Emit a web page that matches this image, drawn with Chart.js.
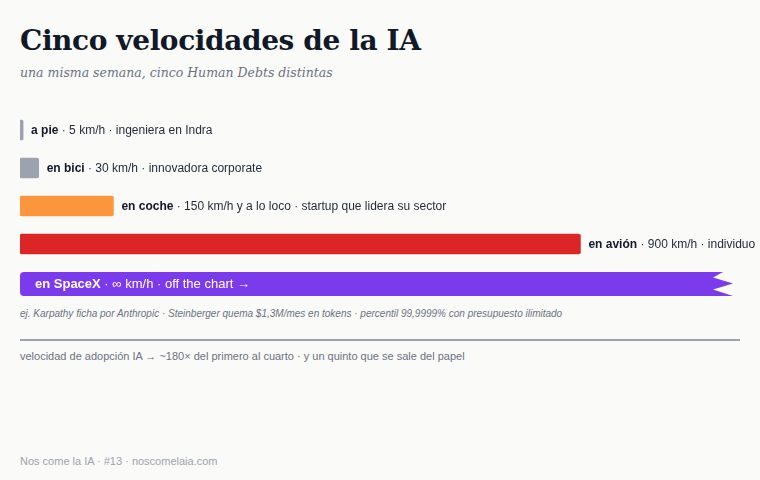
<!DOCTYPE html>
<html lang="es">
<head>
<meta charset="utf-8">
<script src="https://cdn.jsdelivr.net/npm/chart.js@4.4.1/dist/chart.umd.min.js"></script>
<style>
  html, body { margin: 0; padding: 0; background: #fafaf9; }
  body { width: 760px; height: 480px; position: relative; overflow: hidden; font-family: "Liberation Sans", Arial, sans-serif; }
  h1 { position: absolute; left: 20px; top: 24px; margin: 0; font-family: Georgia, "DejaVu Serif", serif; font-size: 28px; font-weight: bold; color: #111827; letter-spacing: -0.4px; }
  .sub { position: absolute; left: 20px; top: 65px; font-family: Georgia, "DejaVu Serif", serif; font-style: italic; font-size: 12.5px; color: #6b7280; }
  #wrap { position: absolute; left: 0; top: 110px; width: 760px; height: 192px; }
  .txt { position: absolute; left: 20px; white-space: nowrap; }
  .nota { top: 308px; font-size: 10px; font-style: italic; color: #6b7280; }
  .rule { position: absolute; left: 20px; top: 339px; width: 720px; height: 2px; background: #9ca3af; }
  .lectura { top: 350px; font-size: 11px; color: #6b7280; }
  .pie { top: 455px; font-size: 11px; color: #9ca3af; }
</style>
</head>
<body>
<h1>Cinco velocidades de la IA</h1>
<div class="sub">una misma semana, cinco Human Debts distintas</div>
<div id="wrap"><canvas id="canvas"></canvas></div>
<div class="txt nota">ej. Karpathy ficha por Anthropic · Steinberger quema $1,3M/mes en tokens · percentil 99,9999% con presupuesto ilimitado</div>
<div class="rule"></div>
<div class="txt lectura">velocidad de adopción IA → ~180× del primero al cuarto · y un quinto que se sale del papel</div>
<div class="txt pie">Nos come la IA · #13 · noscomelaia.com</div>

<script>
// datos del gráfico
const modos = ["a pie", "en bici", "en coche", "en avión", "en SpaceX"];
const velocidades = [5, 30, 150, 900, 1e9]; // el último se sale del papel
const textoVelocidad = ["5 km/h", "30 km/h", "150 km/h y a lo loco", "900 km/h", "∞ km/h"];
const perfiles = ["ingeniera en Indra", "innovadora corporate", "startup que lidera su sector", "individuo", "off the chart →"];

const colores = ["#9ca3af", "#9ca3af", "#fb963c", "#dc2626", "#7c3aed"];
const FUENTE = '"Liberation Sans", Arial, sans-serif';

// etiquetas al final de cada barra + la barra de SpaceX con el corte en zigzag
const etiquetas = {
  id: "etiquetas",
  afterDatasetsDraw(chart) {
    const ctx = chart.ctx;
    const area = chart.chartArea;
    const meta = chart.getDatasetMeta(0);
    meta.data.forEach((bar, i) => {
      ctx.save();
      ctx.textBaseline = "middle";
      if (i < modos.length - 1) {
        let x = bar.x + 8;
        const y = bar.y + 1;
        ctx.font = "bold 12px " + FUENTE;
        ctx.fillStyle = "#111827";
        ctx.fillText(modos[i], x, y);
        x += ctx.measureText(modos[i]).width;
        ctx.font = "12px " + FUENTE;
        ctx.fillStyle = "#1f2937";
        ctx.fillText(" · " + textoVelocidad[i] + " · " + perfiles[i], x, y);
      } else {
        const x0 = bar.base;
        const xr = area.right;
        const t = bar.y - 10;
        const b = bar.y + 14;
        const r = 4;
        ctx.beginPath();
        ctx.moveTo(x0 + r, t);
        ctx.lineTo(xr - 10, t);
        ctx.lineTo(xr - 20, t + 5.5);
        ctx.lineTo(xr, t + 11.5);
        ctx.lineTo(xr - 20, t + 17.5);
        ctx.lineTo(xr, b);
        ctx.lineTo(x0 + r, b);
        ctx.quadraticCurveTo(x0, b, x0, b - r);
        ctx.lineTo(x0, t + r);
        ctx.quadraticCurveTo(x0, t, x0 + r, t);
        ctx.closePath();
        ctx.fillStyle = colores[i];
        ctx.fill();

        let x = x0 + 15;
        const y = bar.y + 2;
        ctx.font = "bold 13px " + FUENTE;
        ctx.fillStyle = "#ffffff";
        ctx.fillText(modos[i], x, y);
        x += ctx.measureText(modos[i]).width;
        ctx.font = "13px " + FUENTE;
        ctx.fillText(" · " + textoVelocidad[i] + " · " + perfiles[i], x, y);
      }
      ctx.restore();
    });
  }
};

new Chart(document.getElementById("canvas"), {
  type: "bar",
  data: {
    labels: modos,
    datasets: [
      {
        data: velocidades,
        backgroundColor: colores.map((c, i) => (i === modos.length - 1 ? "rgba(0,0,0,0)" : c)),
        borderRadius: 2,
        borderSkipped: false,
        barThickness: 20,
      },
    ],
  },
  options: {
    indexAxis: "y",
    responsive: true,
    maintainAspectRatio: false,
    animation: false,
    layout: { padding: { left: 20, right: 27, top: 1, bottom: 1 } },
    plugins: {
      legend: { display: false },
      tooltip: { enabled: false },
    },
    scales: {
      x: { display: false, min: 0, max: 1145 },
      y: { display: false },
    },
  },
  plugins: [etiquetas],
});
</script>
</body>
</html>
